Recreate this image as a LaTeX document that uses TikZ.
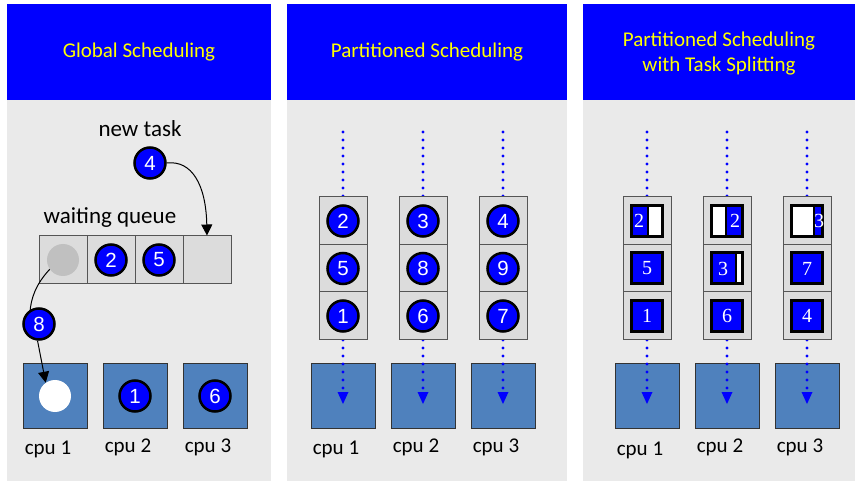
\documentclass[tikz,border=0pt]{standalone}
\usepackage{fontspec}
\setmainfont{Carlito}
\newfontfamily\armfont{Liberation Sans}
\newfontfamily\timesfont{Liberation Serif}
\usetikzlibrary{arrows.meta}

\definecolor{hdrblue}{HTML}{0000FF}
\definecolor{hdrtext}{HTML}{FFFF00}
\definecolor{panelgray}{HTML}{EAEAEA}
\definecolor{slotgray}{HTML}{DCDCDC}
\definecolor{slotedge}{HTML}{555555}
\definecolor{idlegray}{HTML}{C0C0C0}
\definecolor{cpublue}{HTML}{4F81BD}

\begin{document}
\begin{tikzpicture}[x=1pt,y=-1pt,
    title/.style={text=hdrtext,font=\fontsize{21}{25}\selectfont,align=center},
    caption/.style={anchor=base,font=\fontsize{23}{27}\selectfont},
    cpulabel/.style={anchor=base,font=\fontsize{21}{25}\selectfont},
    task/.style={circle,draw=black,line width=2.5pt,fill=blue,text=white,inner sep=0pt,minimum size=31pt,font=\armfont\fontsize{20.5}{20.5}\selectfont},
    slot/.style={rectangle,draw=slotedge,fill=slotgray,line width=1pt,inner sep=0pt,minimum width=48pt,minimum height=48pt},
    cpu/.style={rectangle,draw=black!80,fill=cpublue,line width=1pt,inner sep=0pt,minimum size=64pt},
    piece/.style={rectangle,draw=black,line width=3pt,fill=blue,inner sep=0pt,minimum size=31pt},
    piecetext/.style={text=white,inner sep=0pt,font=\timesfont\fontsize{20}{20}\selectfont},
    flow/.style={blue,line width=3.4pt,dash pattern=on 0pt off 8pt,line cap=round,-{Triangle[width=11pt,length=12pt,line width=0pt]}},
    link/.style={line width=1pt,-{Triangle[width=11pt,length=11pt]}}
    ]

    \useasboundingbox (0,0) rectangle (855,481);

    % panels and headers:
    \foreach \l/\r in {7/271,287/567,583/855} {
      \fill[hdrblue] (\l,4) rectangle (\r,100);
      \fill[panelgray] (\l,100) rectangle (\r,481);
    }
    \node (title1) at (139,52) [title] {Global Scheduling};
    \node (title2) at (427,52) [title] {Partitioned Scheduling};
    \node (title3) at (719,54) [title] {Partitioned Scheduling\\with Task Splitting};

    % global: waiting queue
    \node (newtask) at (140,137) [caption] {new task};
    \node (wq) at (110,224) [caption] {waiting queue};
    \foreach \i/\x in {0/63,1/111,2/159,3/207}
    \node (q\i) at (\x,260) [slot] {};
    \node (w0) at (q0) [circle,fill=idlegray,inner sep=0pt,minimum size=32pt] {};
    \node (w1) at (q1) [task] {2};
    \node (w2) at (q2) [task] {5};
    \node (c4) at (150,163) [task] {4};

    % global: cpus
    \foreach \i/\x in {1/55,2/135,3/215}
    \node (gc\i) at (\x,396) [cpu] {};
    \node (run1) at (gc1) [circle,fill=white,inner sep=0pt,minimum size=32pt] {};
    \node (run2) at (gc2) [task] {1};
    \node (run3) at (gc3) [task] {6};
    \node (gl1) at (48,454) [cpulabel] {cpu 1};
    \node (gl2) at (128,452) [cpulabel] {cpu 2};
    \node (gl3) at (208,452) [cpulabel] {cpu 3};

    % global: moving tasks
    \draw [link] (c4.east) .. controls (192,160) and (206,185) .. (q3.north);
    \draw [line width=1pt] (w0.215) .. controls (36,284) and (31,298) .. (30,312);
    \node (c8) at (39,324) [task] {8};
    \draw [link] (c8.265) -- (run1.125);

    % partitioned: cpus and per-cpu queues
    \foreach \c/\x in {1/343,2/423,3/503} {
      \node (pc\c) at (\x,396) [cpu] {};
      \coordinate (ptop\c) at (\x,132);
    }
    \foreach \c in {1,2,3}
    \draw [flow] (ptop\c) -- ([yshift=-8pt]pc\c.center);

    \foreach \c/\x/\a/\b/\d in {1/343/2/5/1,2/423/3/8/6,3/503/4/9/7} {
      \node (ps\c1) at (\x,221) [slot] {};
      \node (ps\c2) at (\x,268.5) [slot] {};
      \node (ps\c3) at (\x,316) [slot] {};
      \node (pk\c1) at (ps\c1) [task] {\a};
      \node (pk\c2) at (ps\c2) [task] {\b};
      \node (pk\c3) at (ps\c3) [task] {\d};
    }
    \node (pl1) at (336,454) [cpulabel] {cpu 1};
    \node (pl2) at (416,452) [cpulabel] {cpu 2};
    \node (pl3) at (496,452) [cpulabel] {cpu 3};

    % splitting: cpus and per-cpu queues
    \foreach \c/\x in {1/647,2/727,3/807} {
      \node (sc\c) at (\x,396) [cpu] {};
      \coordinate (stop\c) at (\x,132);
    }
    \foreach \c in {1,2,3}
    \draw [flow] (stop\c) -- ([yshift=-8pt]sc\c.center);

    \foreach \c/\x in {1/647,2/727,3/807} {
      \node (ss\c1) at (\x,221) [slot] {};
      \node (ss\c2) at (\x,268.5) [slot] {};
      \node (ss\c3) at (\x,316) [slot] {};
      \foreach \r in {1,2,3}
      \node (sp\c\r) at (ss\c\r) [piece] {};
    }

    % split pieces (white = part on another cpu)
    \fill[white] (sp11.center) ++(1,-14) rectangle ++(13,28);
    \draw[line width=2pt] (sp11.center) ++(1,-14) -- ++(0,28);
    \fill[white] (sp21.center) ++(-14,-14) rectangle ++(13,28);
    \draw[line width=2pt] (sp21.center) ++(-1,-14) -- ++(0,28);
    \fill[white] (sp31.center) ++(-14,-14) rectangle ++(21,28);
    \draw[line width=2pt] (sp31.center) ++(7,-14) -- ++(0,28);
    \fill[white] (sp22.center) ++(9,-14) rectangle ++(6,28);
    \draw[line width=1.5pt] (sp22.center) ++(9,-14) -- ++(0,28);
    \draw[line width=1.5pt] (sp22.center) ++(15,-14) -- ++(0,28);

    \node (n11) at ([xshift=-8pt]sp11.center) [piecetext] {2};
    \node (n21) at ([xshift=8pt]sp21.center) [piecetext] {2};
    \node (n31) at ([xshift=12pt]sp31.center) [piecetext] {3};
    \node (n12) at (sp12) [piecetext] {5};
    \node (n22) at ([xshift=-4pt]sp22.center) [piecetext] {3};
    \node (n32) at (sp32) [piecetext] {7};
    \node (n13) at (sp13) [piecetext] {1};
    \node (n23) at (sp23) [piecetext] {6};
    \node (n33) at (sp33) [piecetext] {4};

    \node (sl1) at (640,455) [cpulabel] {cpu 1};
    \node (sl2) at (720,452) [cpulabel] {cpu 2};
    \node (sl3) at (800,452) [cpulabel] {cpu 3};

  \end{tikzpicture}
\end{document}
